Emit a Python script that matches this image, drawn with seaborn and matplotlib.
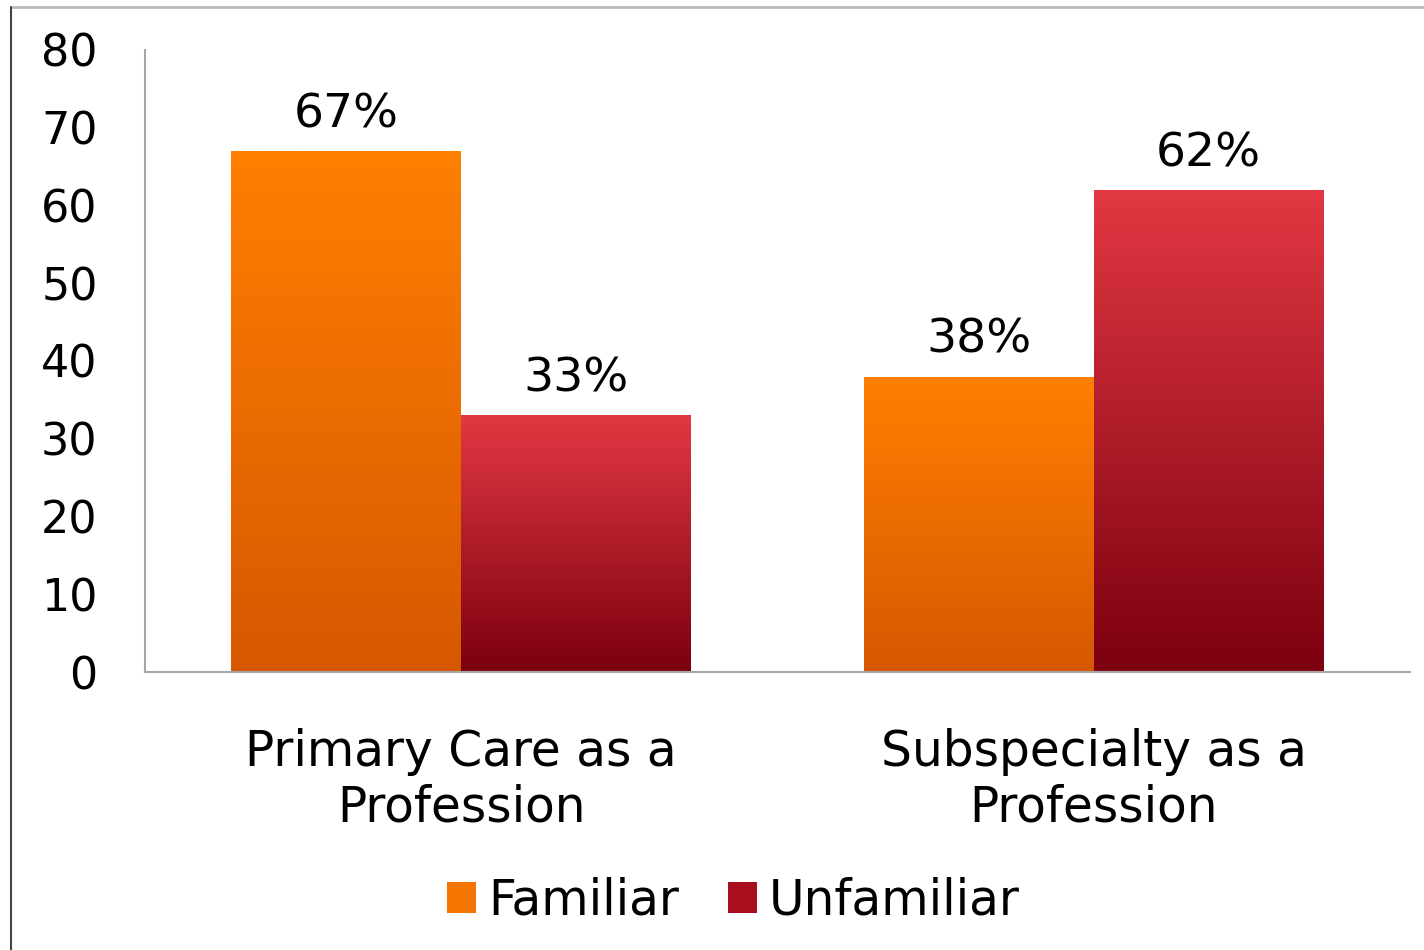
import numpy as np
import pandas as pd
import matplotlib
matplotlib.use("Agg")
import matplotlib.pyplot as plt
import seaborn as sns
from matplotlib.colors import LinearSegmentedColormap
from matplotlib.lines import Line2D
from matplotlib.patches import Patch

# Survey results
categories = ["Primary Care as a\nProfession", "Subspecialty as a\nProfession"]
series_names = ["Familiar", "Unfamiliar"]
familiar = [67, 38]
unfamiliar = [33, 62]
y_ticks = [0, 10, 20, 30, 40, 50, 60, 70, 80]

df = pd.DataFrame({
    "category": categories * 2,
    "group": [series_names[0]] * 2 + [series_names[1]] * 2,
    "value": familiar + unfamiliar,
})

# top / bottom colours of each series' vertical gradient
grad = {
    "Familiar": ("#FF7F00", "#D65800"),
    "Unfamiliar": ("#E23843", "#7C000F"),
}
legend_colors = {"Familiar": "#F57500", "Unfamiliar": "#A80F1E"}

sns.set_theme(style="white")
plt.rcParams["font.family"] = ["DejaVu Sans"]

fig = plt.figure(figsize=(14.24, 9.5), dpi=100)
ax = fig.add_axes([0.1018, 0.2926, 0.8882, 0.6548])

sns.barplot(data=df, x="category", y="value", hue="group",
            palette=[grad[s][0] for s in series_names], saturation=1,
            width=0.727, gap=0, dodge=True, ax=ax, legend=False)

ax.set_xlim(-0.5, 1.5)
ax.set_ylim(0, 80)
ax.set_yticks(y_ticks)

# paint a vertical gradient inside every bar
for container, name in zip(ax.containers, series_names):
    top_c, bot_c = grad[name]
    cmap = LinearSegmentedColormap.from_list(name, [bot_c, top_c])
    for patch in container:
        x0, y0 = patch.get_x(), patch.get_y()
        w, h = patch.get_width(), patch.get_height()
        g = np.linspace(0, 1, 256).reshape(-1, 1)
        im = ax.imshow(g, cmap=cmap, origin="lower", aspect="auto",
                       extent=(x0, x0 + w, y0, y0 + h), zorder=patch.get_zorder() + 0.1)
        im.set_clip_path(patch)
    ax.bar_label(container, fmt="%.0f%%", padding=10, fontsize=34, color="black")

ax.set_xlim(-0.5, 1.5)
ax.set_ylim(0, 80)
ax.set_xlabel("")
ax.set_ylabel("")

for side in ["top", "right"]:
    ax.spines[side].set_visible(False)
for side in ["left", "bottom"]:
    ax.spines[side].set_color("#A6A6A6")
    ax.spines[side].set_linewidth(1.5)

ax.tick_params(axis="y", length=0, pad=34, labelsize=32, labelcolor="black")
ax.tick_params(axis="x", length=0, pad=40, labelsize=35, labelcolor="black")
for t in ax.get_xticklabels():
    t.set_linespacing(1.22)

handles = [Patch(facecolor=legend_colors[s], edgecolor="none") for s in series_names]
fig.legend(handles, series_names, loc="center", bbox_to_anchor=(0.515, 0.052),
           ncol=2, frameon=False, fontsize=35, labelcolor="black",
           handlelength=0.6, handleheight=0.6,
           handletextpad=0.25, columnspacing=1.0)

# outer frame lines
fig.add_artist(Line2D([0.0077, 1.0], [0.9925, 0.9925], transform=fig.transFigure,
                      color="#BBBBBB", lw=2))
fig.add_artist(Line2D([0.0077, 0.0077], [0.0, 0.9925], transform=fig.transFigure,
                      color="#444444", lw=1.5))

fig.savefig("out.png", dpi=100)
